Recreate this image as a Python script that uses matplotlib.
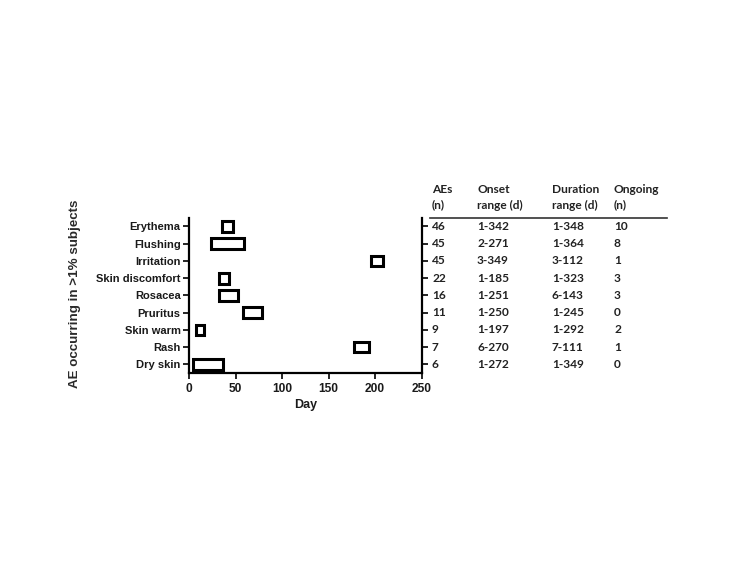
import matplotlib
matplotlib.use("Agg")
import matplotlib.pyplot as plt
from matplotlib.transforms import blended_transform_factory

categories = ["Erythema", "Flushing", "Irritation", "Skin discomfort", "Rosacea",
              "Pruritus", "Skin warm", "Rash", "Dry skin"]
box_start = [36, 24, 196, 32, 32, 58, 7, 177, 4]
box_end = [47, 59, 209, 43, 53, 79, 16, 194, 37]
aes_n = ["46", "45", "45", "22", "16", "11", "9", "7", "6"]
onset_range = ["1-342", "2-271", "3-349", "1-185", "1-251", "1-250", "1-197", "6-270", "1-272"]
duration_range = ["1-348", "1-364", "3-112", "1-323", "6-143", "1-245", "1-292", "7-111", "1-349"]
ongoing_n = ["10", "8", "1", "3", "3", "0", "2", "1", "0"]
headers = [("AEs", "(n)"), ("Onset", "range (d)"), ("Duration", "range (d)"), ("Ongoing", "(n)")]
x_ticks = [0, 50, 100, 150, 200, 250]

fig = plt.figure(figsize=(7.5, 5.63), dpi=100)
ax = fig.add_axes([0.252, 0.3375, 0.310, 0.2755])

ypos = list(range(len(categories)))[::-1]
widths = [e - s for s, e in zip(box_start, box_end)]
ax.barh(ypos, widths, left=box_start, height=0.62, facecolor="none",
        edgecolor="black", linewidth=2.2)

ax.set_xlim(0, 250)
ax.set_ylim(-0.5, 8.5)
ax.set_xticks(x_ticks)
ax.set_yticks(ypos)
ax.set_yticklabels(categories)
for sp in ["left", "right", "bottom"]:
    ax.spines[sp].set_linewidth(1.6)
ax.spines["top"].set_visible(False)
ax.tick_params(axis="y", left=True, right=True, direction="out", length=4, width=1.2,
               labelsize=8, pad=2)
ax.tick_params(axis="x", direction="out", length=4, width=1.2, labelsize=8.6, pad=3)
for lbl in ax.get_yticklabels() + ax.get_xticklabels():
    lbl.set_fontweight("bold")
    lbl.set_fontfamily("Liberation Sans")
    lbl.set_color("#1a1a1a")

ax.set_xlabel("Day", fontsize=9, fontweight="bold", fontfamily="Liberation Sans", labelpad=3,
              color="#1a1a1a")
fig.text(0.100, 1 - 294 / 563, "AE occurring in >1% subjects", rotation=90, ha="center", va="center",
         fontsize=9.6, fontweight="bold", fontfamily="Liberation Sans", color="#2a2a2a")

tr = blended_transform_factory(fig.transFigure, ax.transData)
col_x = [432 / 750, 477 / 750, 552 / 750, 614 / 750]
cols = [aes_n, onset_range, duration_range, ongoing_n]
tfont = dict(fontsize=8.6, fontweight="bold", fontfamily="Lato", color="#222222")
for cx, col in zip(col_x, cols):
    for y, v in zip(ypos, col):
        ax.text(cx, y, v, transform=tr, ha="left", va="center", **tfont)
for cx, (h1, h2) in zip(col_x, headers):
    fig.text(cx, 1 - 190 / 563, h1, ha="left", va="center", **tfont)
    fig.text(cx, 1 - 205 / 563, h2, ha="left", va="center", **tfont)
fig.add_artist(plt.Line2D([430 / 750, 667 / 750], [1 - 217.5 / 563] * 2,
                          transform=fig.transFigure, color="#333333", linewidth=1.2))

fig.savefig("out.png", dpi=100)
